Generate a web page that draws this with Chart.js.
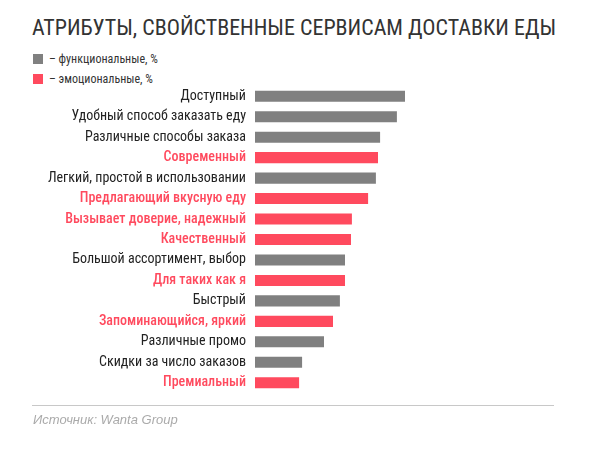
<!DOCTYPE html>
<html><head><meta charset="utf-8">
<script src="https://cdn.jsdelivr.net/npm/chart.js@4"></script>
<style>
html,body{margin:0;padding:0;background:#fff;}
#wrap{position:relative;width:614px;height:452px;overflow:hidden;}
#c{position:absolute;left:0;top:0;}
.t{position:absolute;left:32px;top:15px;font-family:"Roboto Condensed",sans-serif;font-size:22px;color:#333;white-space:nowrap;}
.lg{position:absolute;left:33px;font-family:"Roboto Condensed",sans-serif;font-size:12px;color:#333;white-space:nowrap;line-height:10px;}
.lg i{display:inline-block;width:10px;height:10px;vertical-align:top;margin-right:6px;}
.rule{position:absolute;left:32px;top:405px;width:522px;height:1px;background:#c8c8c8;}
.src{position:absolute;left:33px;top:412px;font-family:"Liberation Sans",Arial,sans-serif;font-style:italic;font-size:13px;color:#aaa;}
</style></head>
<body><div id="wrap">
<div class="t">АТРИБУТЫ, СВОЙСТВЕННЫЕ СЕРВИСАМ ДОСТАВКИ ЕДЫ</div>
<div class="lg" style="top:54px"><i style="background:#808080"></i>– функциональные, %</div>
<div class="lg" style="top:74px"><i style="background:#ff4a5e"></i>– эмоциональные, %</div>
<canvas id="c" width="614" height="452"></canvas>
<div class="rule"></div>
<div class="src">Источник: Wanta Group</div>
</div>
<script>
const categories = ["Доступный","Удобный способ заказать еду","Различные способы заказа","Современный","Легкий, простой в использовании","Предлагающий вкусную еду","Вызывает доверие, надежный","Качественный","Большой ассортимент, выбор","Для таких как я","Быстрый","Запоминающийся, яркий","Различные промо","Скидки за число заказов","Премиальный"];
const values = [50,47.3,41.7,41,40.3,37.7,32.3,32,30,30,28.3,26,23,15.7,14.7];
const types = ["f","f","f","e","f","e","e","e","f","e","f","e","f","f","e"];
const GRAY = "#808080", RED = "#ff4a5e";
const colors = types.map(t => t === "e" ? RED : GRAY);
const labelColors = types.map(t => t === "e" ? RED : "#222");

new Chart(document.getElementById("c"), {
  type: "bar",
  data: { labels: categories, datasets: [{ data: values, backgroundColor: colors, barPercentage: 0.54, categoryPercentage: 1 }] },
  options: {
    indexAxis: "y", responsive: false, animation: false,
    layout: { padding: { top: 86, bottom: 59, right: 59, left: 0 } },
    plugins: { legend: { display: false }, tooltip: { enabled: false } },
    scales: {
      x: { display: false, min: 0, max: 100 },
      y: {
        grid: { display: false, drawTicks: false }, border: { display: false },
        afterFit: s => { s.width = 255; },
        ticks: {
          padding: 9,
          color: ctx => labelColors[ctx.index],
          font: ctx => ({ family: "'Roboto Condensed', sans-serif", size: 14, weight: types[ctx.index] === "e" ? "500" : "normal" })
        }
      }
    }
  }
});
</script>
</body></html>
